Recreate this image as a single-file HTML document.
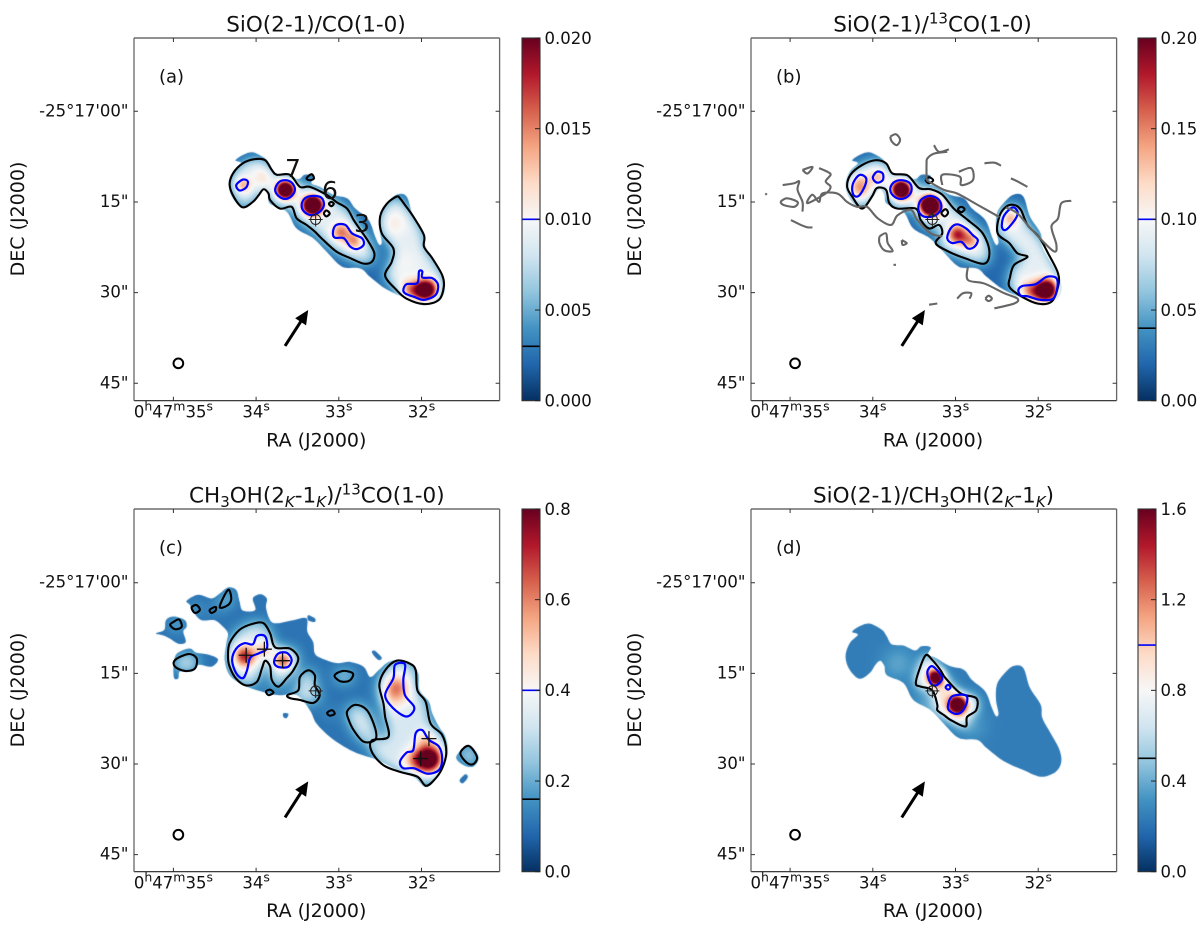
<!DOCTYPE html>
<html lang="en">
<head>
<meta charset="utf-8">
<title>SiO and CH3OH line ratio maps</title>
<style>
html,body{margin:0;padding:0;background:#fff;}
#figure{position:relative;width:1200px;height:932px;overflow:hidden;background:#fff;font-family:"DejaVu Sans","Liberation Sans",sans-serif;}
#figure canvas{position:absolute;}
#overlay{position:absolute;left:0;top:0;}
#overlay text{font-family:"DejaVu Sans","Liberation Sans",sans-serif;fill:#111;}
.ttl{font-size:21.5px;text-anchor:middle;}
.axt{font-size:19px;text-anchor:middle;}
.tag{font-size:18px;}
.src{font-size:25px;text-anchor:middle;}
.tkl{font-size:16.5px;}
</style>
</head>
<body>
<div id="figure">
<canvas id="map-a" width="366" height="363" style="left:134px;top:38px"></canvas>
<canvas id="map-b" width="366" height="363" style="left:751px;top:38px"></canvas>
<canvas id="map-c" width="366" height="363" style="left:134px;top:509px"></canvas>
<canvas id="map-d" width="366" height="363" style="left:751px;top:509px"></canvas>
<svg id="overlay" width="1200" height="932" viewBox="0 0 1200 932" xmlns="http://www.w3.org/2000/svg">
<defs>
<linearGradient id="cbar-gradient" x1="0" y1="1" x2="0" y2="0"></linearGradient>
<clipPath id="clip-b"><rect x="751" y="38" width="366" height="363"></rect></clipPath>
</defs>
<text class="ttl" x="316" y="31.7">SiO(2-1)/CO(1-0)</text>
<text class="ttl" x="932.5" y="31.7">SiO(2-1)/<tspan font-size="15" dy="-8">13</tspan><tspan dy="8">CO(1-0)</tspan></text>
<text class="ttl" x="316.8" y="502.5">CH<tspan font-size="15" dy="4.5">3</tspan><tspan dy="-4.5">OH(2</tspan><tspan font-size="15" font-style="italic" dy="4.5">K</tspan><tspan dy="-4.5">-1</tspan><tspan font-size="15" font-style="italic" dy="4.5">K</tspan><tspan dy="-4.5">)/</tspan><tspan font-size="15" dy="-8">13</tspan><tspan dy="8">CO(1-0)</tspan></text>
<text class="ttl" x="933.5" y="502.5">SiO(2-1)/CH<tspan font-size="15" dy="4.5">3</tspan><tspan dy="-4.5">OH(2</tspan><tspan font-size="15" font-style="italic" dy="4.5">K</tspan><tspan dy="-4.5">-1</tspan><tspan font-size="15" font-style="italic" dy="4.5">K</tspan><tspan dy="-4.5">)</tspan></text>
<text class="axt" x="316.3" y="446.7">RA (J2000)</text>
<text class="axt" x="933" y="446.7">RA (J2000)</text>
<text class="axt" x="316.3" y="917">RA (J2000)</text>
<text class="axt" x="933" y="917">RA (J2000)</text>
<text class="axt" transform="translate(24 219) rotate(-90)">DEC (J2000)</text>
<text class="axt" transform="translate(641 219) rotate(-90)">DEC (J2000)</text>
<text class="axt" transform="translate(24 690) rotate(-90)">DEC (J2000)</text>
<text class="axt" transform="translate(641 690) rotate(-90)">DEC (J2000)</text>
<text class="tag" x="159" y="82.7">(a)</text>
<text class="tag" x="776" y="82.7">(b)</text>
<text class="tag" x="159" y="553.7">(c)</text>
<text class="tag" x="776" y="553.7">(d)</text>
<g id="marks"></g>
<text class="src" x="293" y="177">7</text>
<text class="src" x="330" y="199">6</text>
<text class="src" x="362" y="232">3</text>
</svg>
</div>
<script>
// ---- axis values ----
const raTicks = [35, 34, 33, 32];
const raTickLabels = ["0h47m35s", "34s", "33s", "32s"];
const decTicks = [0, 15, 30, 45];
const decTickLabels = ["-25\u00b017'00\"", "15\"", "30\"", "45\""];

// ---- colour map stops (RdBu reversed) ----
const cmapStops = ["#053061","#2166ac","#4393c3","#92c5de","#d1e5f0","#f7f7f7","#fddbc7","#f4a582","#d6604d","#b2182b","#67001f"];

// ---- colour bar values: [min,max] ; ticks ; printed labels ; contour levels ----
const rangeA = [0, 0.02];
const rangeB = [0, 0.2];
const rangeC = [0, 0.8];
const rangeD = [0, 1.6];
const cbarTicksA = [0, 0.005, 0.01, 0.015, 0.02];
const cbarTicksB = [0, 0.05, 0.1, 0.15, 0.2];
const cbarTicksC = [0, 0.2, 0.4, 0.6, 0.8];
const cbarTicksD = [0, 0.4, 0.8, 1.2, 1.6];
const cbarLabelsA = ["0.000", "0.005", "0.010", "0.015", "0.020"];
const cbarLabelsB = ["0.00", "0.05", "0.10", "0.15", "0.20"];
const cbarLabelsC = ["0.0", "0.2", "0.4", "0.6", "0.8"];
const cbarLabelsD = ["0.0", "0.4", "0.8", "1.2", "1.6"];
const levelsA = [0.003, 0.01];
const levelsB = [0.04, 0.1];
const levelsC = [0.16, 0.4];
const levelsD = [0.5, 1.0];
// ratio values: [outside the black contour, inside the black contour]
const plateauA = [0.0021, 0.0088];
const plateauB = [0.021, 0.09];
const plateauC = [0.105, 0.33];
const plateauD = [0.24, 0.84];

// ---- sky positions are [RA seconds, DEC arcsec below -25d17'00"] ----
const sioFootprint = [[34.25,8.1],[34.14,7.1],[34.03,6.8],[33.89,7.8],[33.83,8.9],[33.77,10.2],[33.63,10.4],[33.49,11.2],[33.41,10.5],[33.3,10.7],[33.33,11.9],[33.23,12.5],[33.07,13.8],[32.9,14.4],[32.8,16.1],[32.64,18.0],[32.56,20.7],[32.51,22.1],[32.48,21.6],[32.51,19.4],[32.5,16.9],[32.42,15.2],[32.3,13.8],[32.18,14.1],[32.1,17.4],[31.97,20.2],[31.95,22.4],[31.85,24.9],[31.75,27.4],[31.72,29.6],[31.79,31.3],[31.97,32.1],[32.18,31.0],[32.42,29.5],[32.62,27.4],[32.74,26.0],[32.96,25.7],[33.15,23.2],[33.31,21.0],[33.51,19.4],[33.63,16.6],[33.83,15.3],[33.86,13.8],[33.91,12.9],[33.97,13.6],[34.04,15.0],[34.16,15.9],[34.28,14.4],[34.33,12.2],[34.28,10.0],[34.18,8.6]];

const blackA = [
 [[34.32,12.2],[34.28,10.3],[34.16,8.6],[34.01,7.9],[33.89,8.1],[33.81,9.7],[33.75,10.5],[33.59,10.5],[33.47,12.5],[33.35,12.5],[33.15,13.8],[33.03,15.0],[32.9,16.1],[32.82,18.0],[32.74,19.6],[32.64,21.6],[32.57,23.5],[32.6,24.9],[32.7,25.2],[32.86,24.3],[33.03,23.2],[33.21,21.0],[33.29,19.9],[33.39,18.8],[33.51,17.7],[33.57,15.8],[33.71,16.1],[33.83,14.7],[33.85,13.6],[33.91,12.9],[33.97,13.9],[34.04,15.0],[34.16,15.9],[34.26,14.4]],
 [[32.3,14.1],[32.42,15.3],[32.5,17.4],[32.48,20.2],[32.34,22.7],[32.36,24.9],[32.44,27.2],[32.3,29.6],[32.18,31.0],[31.97,31.9],[31.79,31.2],[31.73,29.0],[31.75,27.1],[31.87,24.3],[31.97,22.4],[31.97,20.5],[32.1,17.4],[32.2,15.5],[32.26,14.4]],
 [[33.39,11.1],[33.33,10.4],[33.3,11.1],[33.35,11.4]],
 [[33.12,15.3],[33.09,15.0],[33.06,15.3],[33.09,15.7]],
 [[33.18,16.9],[33.15,16.4],[33.11,16.9],[33.15,17.4]]
];
const blueA = [
 [[34.24,12.2],[34.16,11.3],[34.1,11.6],[34.12,12.6],[34.2,13.1]],
 [[33.77,13.0],[33.73,11.8],[33.65,11.4],[33.57,11.8],[33.53,12.9],[33.57,14.0],[33.65,14.5],[33.73,14.0]],
 [[33.45,15.5],[33.41,14.4],[33.32,14.0],[33.21,14.3],[33.18,15.5],[33.23,16.6],[33.33,17.2],[33.42,16.6]],
 [[33.07,19.9],[33.03,18.8],[32.92,18.8],[32.84,20.2],[32.72,21.0],[32.7,22.1],[32.78,22.8],[32.86,22.4],[32.94,21.0],[33.05,20.9]],
 [[32.22,29.6],[32.18,28.6],[32.05,28.4],[32.03,26.5],[31.99,26.5],[31.99,27.5],[31.87,27.6],[31.8,28.7],[31.83,30.4],[31.97,31.2],[32.09,30.7],[32.19,30.2]]
];
// emission peaks: [RA, DEC, amplitude, sigma in arcsec]
const peaksA = [[34.16,12.1,0.0045,0.9],[33.93,10.8,0.0022,1.2],[33.65,12.9,0.019,0.98],[33.32,15.45,0.021,1.08],[32.98,19.9,0.0062,1.1],[32.82,21.3,0.0055,1.05],[32.33,18.5,0.0018,1.5],[32.2,25,0.001,1.8],[31.95,29.5,0.016,1.2],[32.13,29.6,0.0062,1.3]];

const blackB = [
 [[34.31,12.5],[34.27,10.5],[34.13,8.9],[33.97,8.1],[33.84,8.6],[33.76,10.3],[33.58,10.6],[33.44,12.7],[33.3,12.9],[33.16,13.8],[33.02,16.1],[32.85,18.0],[32.67,20.2],[32.59,23.2],[32.65,25.2],[32.89,24.3],[33.1,23.1],[33.24,21.8],[33.16,20.2],[33.2,18.8],[33.32,19.4],[33.42,18.0],[33.48,16.1],[33.7,16.1],[33.8,15.2],[33.84,13.0],[33.95,12.7],[34.01,14.1],[34.13,16.1],[34.25,14.1]],
 [[32.39,15.8],[32.47,17.4],[32.49,20.2],[32.35,21.8],[32.25,23.5],[32.13,24.1],[32.29,25.4],[32.34,27.4],[32.35,29.0],[32.23,30.4],[32.01,31.8],[31.84,31.5],[31.76,29.0],[31.76,26.8],[31.88,23.5],[31.99,20.8],[32.13,18.8],[32.21,16.3],[32.29,15.5]],
 [[33.17,16.8],[33.12,16.2],[33.09,16.8],[33.13,17.4]],
 [[33.36,11.4],[33.32,10.9],[33.27,11.4],[33.32,11.9]],
 [[32.97,16.2],[32.93,15.8],[32.89,16.2],[32.93,16.7]]
];
const blueB = [
 [[34.25,12.7],[34.22,11.4],[34.15,10.5],[34.08,11.1],[34.1,12.5],[34.17,14.0],[34.23,13.9]],
 [[34.0,11.0],[33.95,10.0],[33.88,10.3],[33.88,11.4],[33.95,11.8]],
 [[33.79,12.9],[33.75,11.8],[33.66,11.4],[33.56,11.8],[33.53,12.9],[33.57,14.0],[33.66,14.5],[33.75,14.0]],
 [[33.45,16.1],[33.42,14.7],[33.32,14.0],[33.21,14.5],[33.17,15.8],[33.22,17.0],[33.32,17.5],[33.41,17.2]],
 [[33.1,21.0],[33.06,19.4],[32.98,18.7],[32.87,19.4],[32.79,20.5],[32.73,21.3],[32.77,22.4],[32.85,22.7],[32.93,21.6],[33.04,21.8]],
 [[32.44,18.8],[32.41,17.2],[32.31,15.9],[32.25,16.6],[32.27,17.7],[32.37,19.4],[32.42,19.6]],
 [[32.24,29.6],[32.19,28.9],[32.03,28.6],[31.9,27.4],[31.78,27.6],[31.77,29.3],[31.82,31.0],[31.97,31.2],[32.13,30.6],[32.21,30.5]]
];
const peaksB = [[34.17,12.5,0.055,1.5],[33.94,10.8,0.035,1.0],[33.66,12.9,0.2,1.0],[33.31,15.5,0.21,1.15],[32.98,20.3,0.09,1.1],[32.83,21.3,0.05,1.0],[32.35,17.5,0.045,1.1],[31.9,29.6,0.17,1.3],[32.1,29.8,0.06,1.3]];
// 13CO footprint contour drawn in grey on panel b
const greyB = [
 [[33.79,4.2],[33.72,3.8],[33.67,4.7],[33.71,5.6],[33.77,5.0],[33.79,4.2]],
 [[35.09,12.2],[34.95,11.9],[34.89,11.6],[34.91,13],[34.85,15],[34.85,16.6]],
 [[35.12,15],[35.04,14.4],[34.91,15],[34.95,15.8],[35.08,15.5],[35.12,15]],
 [[34.85,9.7],[34.73,9.2],[34.79,10.3],[34.85,9.7]],
 [[34.65,9.4],[34.55,10],[34.51,10.5],[34.57,11.6],[34.51,12.5],[34.57,13.6],[34.79,15.2],[34.73,13.8],[34.65,15],[34.61,13.6],[34.43,13.6],[34.31,15],[34.19,15.8],[34.07,15.8],[33.94,17.7],[33.78,18.8],[33.7,17.2],[33.54,16.3],[33.46,18],[33.3,20.2],[33.16,20.7]],
 [[32.85,25.7],[32.85,27.9],[32.65,28.5],[32.41,30.1],[32.25,31],[32.29,31.8],[32.53,32.6]],
 [[32.98,31],[32.91,30.1],[32.81,30.1],[32.83,31]],
 [[32.64,31],[32.6,30.5],[32.56,31],[32.6,31.4],[32.64,31]],
 [[33.32,32],[33.22,31.8]],
 [[33.26,5.6],[33.2,6.7],[33.08,6.3]],
 [[33.35,11.4],[33.35,8.6],[33.34,7.8],[33.26,7],[33.1,6.7]],
 [[33.35,11.4],[33.14,13],[32.98,13.6],[32.73,15.5],[32.47,17.5]],
 [[32.39,15.9],[32.25,16.9],[32.09,19.4],[31.82,23.1],[31.78,22.1],[31.84,19.1],[31.76,17.7],[31.72,15.2],[31.6,14.8]],
 [[33.16,12.2],[33.16,10.5],[32.95,10.8],[32.93,12.2],[32.79,11.4],[32.81,9.4],[32.96,10]],
 [[32.65,8.6],[32.53,8.5],[32.45,9]],
 [[32.33,11.1],[32.25,11.6],[32.13,12.5]],
 [[33.92,20.7],[33.84,20.2],[33.82,21.8],[33.76,23.1],[33.86,23],[33.92,21.8],[33.92,20.7]],
 [[33.65,21.3],[33.59,21.8],[33.64,22.1],[33.65,21.3]],
 [[33.75,25.4],[33.72,25.4]],
 [[34.99,18],[34.87,18.8],[34.79,19.2],[34.73,19.2]],
 [[35.3,13.6],[35.28,13.8]]
];

const footprintC = [
 [[34.84,3.0],[34.7,2.0],[34.54,2.6],[34.44,1.8],[34.34,0.8],[34.24,1.2],[34.2,3.1],[34.16,4.6],[34.01,4.5],[34.04,2.6],[33.95,1.9],[33.87,2.6],[33.88,4.1],[33.83,6.2],[33.75,6.7],[33.55,6.2],[33.39,5.9],[33.38,8.1],[33.31,9.8],[33.29,11.7],[33.21,12.5],[33.03,13.3],[32.86,13.1],[32.7,13.9],[32.62,15.6],[32.52,14.5],[32.42,13.3],[32.3,12.8],[32.14,13.2],[32.04,15],[32.02,17.8],[31.91,19.7],[31.87,21.6],[31.79,23.8],[31.71,25.5],[31.68,28.2],[31.75,31],[31.85,32.7],[31.95,33.8],[32.1,32.1],[32.34,30.7],[32.54,29.3],[32.78,28.2],[32.94,27.1],[33.11,25.5],[33.27,23.3],[33.35,21.1],[33.51,18.6],[33.75,18.6],[33.99,17.8],[34.16,16.9],[34.32,15.3],[34.38,12.8],[34.36,10],[34.34,8.4],[34.4,7.3],[34.5,6.2],[34.66,6.2],[34.76,4.8],[34.8,3.7]],
 [[35.21,8.4],[35.11,7.8],[35.09,6.2],[35.0,5.6],[34.86,6.2],[34.84,7.3],[34.88,8.1],[34.85,9.8],[34.94,10.1],[35.05,9.2],[35.13,8.7]],
 [[34.98,12.2],[34.92,11.4],[34.8,10.9],[34.72,11.6],[34.58,11.9],[34.46,12.7],[34.54,13.9],[34.7,13.6],[34.78,14.7],[34.92,14.7],[34.94,15.8],[34.99,15.8],[35.0,13.9]],
 [[33.67,21.6],[33.61,21.7],[33.63,22.4],[33.67,22.2]],
 [[31.58,28.8],[31.43,26.9],[31.31,28.8],[31.37,30.4],[31.49,30.2]],
 [[31.54,32.7],[31.47,31.7],[31.44,32.2],[31.5,33.2]],
 [[32.6,11.4],[32.56,11.3],[32.48,12.4],[32.52,12.8],[32.58,12.0]],
 [[33.37,5.4],[33.29,5.9],[33.29,6.5],[33.37,6.2]]
];
const blackC = [
 [[34.34,12.2],[34.32,10],[34.2,7.8],[34.04,6.8],[33.91,6.7],[33.83,8.4],[33.77,10.7],[33.59,10.9],[33.49,12.5],[33.55,14.5],[33.63,15.8],[33.73,17.2],[33.81,16.1],[33.83,13.9],[33.89,12.9],[33.93,14.2],[33.99,16.4],[34.12,17],[34.24,15.9],[34.32,13.9]],
 [[33.62,18.6],[33.49,17.8],[33.47,15.6],[33.37,14.5],[33.29,15.3],[33.29,17],[33.23,18.6],[33.31,19.9],[33.47,19.4],[33.59,19.1]],
 [[33.05,15.3],[32.95,14.6],[32.83,15],[32.86,16.1],[32.94,16.4],[33.01,16.1]],
 [[32.9,21.3],[32.8,20.2],[32.66,21.1],[32.56,24.1],[32.56,26],[32.7,26.3],[32.82,24.4],[32.88,22.7]],
 [[32.3,12.9],[32.44,14.5],[32.51,16.9],[32.46,20],[32.44,22.2],[32.4,25.5],[32.6,26.1],[32.6,28],[32.46,30.2],[32.26,31.3],[32.05,32.1],[31.95,33.6],[31.85,32.7],[31.75,30.7],[31.7,28],[31.75,25.2],[31.89,23.3],[31.95,19.7],[32.05,17.8],[32.07,14.5],[32.14,13.4]],
 [[35.0,6.5],[34.93,6.1],[34.9,7.3],[34.98,7.7],[35.04,7.0]],
 [[34.98,12.8],[34.82,11.8],[34.72,12.5],[34.74,14.2],[34.86,14.6],[34.98,13.9]],
 [[34.44,4],[34.34,1.2],[34.3,2.6],[34.34,3.7]],
 [[34.78,4.1],[34.72,3.7],[34.68,4.5],[34.74,5]],
 [[34.56,4.5],[34.49,4],[34.49,4.6],[34.54,5]],
 [[33.88,18],[33.83,17.7],[33.79,18.2],[33.85,18.6]],
 [[33.14,21.5],[33.08,21.1],[33.05,21.7],[33.11,22]],
 [[31.53,28.2],[31.43,27],[31.33,28.8],[31.37,30],[31.45,29.8]]
];
const blueC = [
 [[34.29,12.8],[34.24,10.9],[34.14,10],[34.04,10.2],[33.99,8.8],[33.89,8.9],[33.87,10.9],[33.97,11.7],[34.07,12.4],[34.11,14.5],[34.16,15.8],[34.24,15]],
 [[33.78,12.8],[33.73,11.7],[33.63,11.6],[33.57,12.7],[33.61,13.9],[33.71,14],[33.77,13.6]],
 [[32.44,18.6],[32.34,15.8],[32.32,13.6],[32.2,13.5],[32.22,16.1],[32.2,18.6],[32.09,20.5],[32.12,21.7],[32.2,22.1],[32.34,20.8]],
 [[32.26,29.6],[32.18,28.1],[32.1,27.7],[32.07,24.9],[31.99,24.4],[31.91,26],[31.79,27.1],[31.75,29.1],[31.79,31],[31.93,31.6],[32.09,30.7],[32.22,30.7]]
];
const peaksC = [[34.14,12.1,0.38,1.3],[33.91,10.9,0.16,1.0],[33.68,12.8,0.3,1.1],[32.32,18.3,0.2,1.7],[32.3,16.7,0.13,1.3],[31.91,29.1,0.62,1.5],[32.09,29.3,0.2,1.4],[31.97,26,0.12,1.2]];
const crossesC = [[34.12,12],[33.9,11],[33.68,12.9],[31.91,25.8],[32.01,29.1]];

const blackD = [
 [[33.48,16.7],[33.44,14.5],[33.36,12],[33.28,12.8],[33.18,14.5],[33.12,15.8],[32.94,18.3],[32.75,19.1],[32.75,21.1],[32.86,22.2],[32.88,23.8],[33.06,22.7],[33.14,21.9],[33.22,21.1],[33.22,20.2],[33.28,17.8],[33.42,17.2]]
];
const blueD = [
 [[33.34,14.7],[33.29,13.8],[33.22,14.5],[33.16,15.8],[33.22,16.9],[33.28,16.9],[33.32,16.1]],
 [[33.09,20.2],[33.04,18.8],[32.88,18.6],[32.86,19.7],[32.92,21.3],[33.0,21.7],[33.08,21.1]],
 [[33.12,17.3],[33.09,16.9],[33.06,17.3],[33.09,17.7]]
];
const peaksD = [[33.24,15.6,1.1,0.9],[32.98,20.1,1.25,1.0],[33.09,17.3,0.2,0.4],[33.7,13.3,0.13,2.0],[33.3,20,0.15,2.0],[32.8,23.5,0.1,1.8]];

// shared overlay positions [RA, DEC]
const referenceSource = [33.28, 17.9];
const arrowTail = [33.65, 38.83];
const arrowTip = [33.37, 32.88];
const beamCentre = [34.94, 41.7];
const beamRadius = [0.85];

// ---- panel layout (pixels) ----
const panels = [
 {key:'a', ox:173.4, oy:111.3, left:134, top:38, cbarX:522, range:rangeA, plateau:plateauA, foot:[sioFootprint], black:blackA, blue:blueA, peaks:peaksA, ticks:cbarTicksA, labels:cbarLabelsA, levels:levelsA, blur:6},
 {key:'b', ox:790.1, oy:111.3, left:751, top:38, cbarX:1138, range:rangeB, plateau:plateauB, foot:[sioFootprint], black:blackB, blue:blueB, peaks:peaksB, ticks:cbarTicksB, labels:cbarLabelsB, levels:levelsB, blur:6},
 {key:'c', ox:173.4, oy:582.7, left:134, top:509, cbarX:522, range:rangeC, plateau:plateauC, foot:footprintC, black:blackC, blue:blueC, peaks:peaksC, ticks:cbarTicksC, labels:cbarLabelsC, levels:levelsC, blur:6},
 {key:'d', ox:790.1, oy:582.7, left:751, top:509, cbarX:1138, range:rangeD, plateau:plateauD, foot:[sioFootprint], black:blackD, blue:blueD, peaks:peaksD, ticks:cbarTicksD, labels:cbarLabelsD, levels:levelsD, blur:5}
];

const SVG_NS = 'http://www.w3.org/2000/svg';
const PX_PER_SEC = 82.7;
const PX_PER_ARCSEC = 6.044;
const AX_W = 365.6, AX_H = 362.7;
const marksLayer = document.getElementById('marks');

function xScale(p, ra){ return p.ox + (35 - ra) * PX_PER_SEC; }
function yScale(p, dec){ return p.oy + dec * PX_PER_ARCSEC; }
function cbarY(p, v){ return p.top + AX_H - (v - p.range[0]) / (p.range[1] - p.range[0]) * AX_H; }
function svgEl(tag, parent){ const e = document.createElementNS(SVG_NS, tag); (parent || marksLayer).appendChild(e); return e; }

function smoothPath(pts, closed, fx, fy){
  const n = pts.length;
  const P = i => closed ? pts[(i + n) % n] : pts[Math.max(0, Math.min(n - 1, i))];
  let d = 'M' + fx(pts[0][0]).toFixed(2) + ' ' + fy(pts[0][1]).toFixed(2);
  const last = closed ? n : n - 1;
  for (let i = 0; i < last; i++){
    const p0 = P(i - 1), p1 = P(i), p2 = P(i + 1), p3 = P(i + 2);
    const x0 = fx(p0[0]), y0 = fy(p0[1]), x1 = fx(p1[0]), y1 = fy(p1[1]), x2 = fx(p2[0]), y2 = fy(p2[1]), x3 = fx(p3[0]), y3 = fy(p3[1]);
    d += 'C' + (x1 + (x2 - x0) / 6).toFixed(2) + ' ' + (y1 + (y2 - y0) / 6).toFixed(2) + ' ' + (x2 - (x3 - x1) / 6).toFixed(2) + ' ' + (y2 - (y3 - y1) / 6).toFixed(2) + ' ' + x2.toFixed(2) + ' ' + y2.toFixed(2);
  }
  return d + (closed ? 'Z' : '');
}

const cmapRGB = cmapStops.map(h => [parseInt(h.slice(1,3),16), parseInt(h.slice(3,5),16), parseInt(h.slice(5,7),16)]);
function cmap(t){
  t = Math.max(0, Math.min(1, t)) * (cmapRGB.length - 1);
  const i = Math.min(cmapRGB.length - 2, Math.floor(t)), f = t - i, a = cmapRGB[i], b = cmapRGB[i + 1];
  return [a[0] + (b[0] - a[0]) * f, a[1] + (b[1] - a[1]) * f, a[2] + (b[2] - a[2]) * f];
}

function boxBlur(src, w, h, r){
  let a = src, b = new Float32Array(w * h);
  for (let pass = 0; pass < 3; pass++){
    for (let y = 0; y < h; y++){
      let s = 0;
      for (let x = -r; x <= r; x++) s += a[y * w + Math.max(0, Math.min(w - 1, x))];
      for (let x = 0; x < w; x++){
        b[y * w + x] = s / (2 * r + 1);
        s += a[y * w + Math.min(w - 1, x + r + 1)] - a[y * w + Math.max(0, x - r)];
      }
    }
    const c = new Float32Array(w * h);
    for (let x = 0; x < w; x++){
      let s = 0;
      for (let y = -r; y <= r; y++) s += b[Math.max(0, Math.min(h - 1, y)) * w + x];
      for (let y = 0; y < h; y++){
        c[y * w + x] = s / (2 * r + 1);
        s += b[Math.min(h - 1, y + r + 1) * w + x] - b[Math.max(0, y - r) * w + x];
      }
    }
    a = c;
  }
  return a;
}

function rasterise(p, polys, w, h){
  const c = document.createElement('canvas');
  c.width = w; c.height = h;
  const g = c.getContext('2d');
  g.fillStyle = '#000';
  polys.forEach(poly => {
    g.fill(new Path2D(smoothPath(poly, true, ra => xScale(p, ra) - p.left, dec => yScale(p, dec) - p.top)));
  });
  const data = g.getImageData(0, 0, w, h).data, out = new Float32Array(w * h);
  for (let i = 0; i < w * h; i++) out[i] = data[i * 4 + 3] / 255;
  return out;
}

function paintMap(p){
  const cv = document.getElementById('map-' + p.key), w = cv.width, h = cv.height, g = cv.getContext('2d');
  const foot = rasterise(p, p.foot, w, h);
  const inner = boxBlur(rasterise(p, p.black, w, h), w, h, p.blur);
  const img = g.createImageData(w, h), span = p.range[1] - p.range[0];
  const pk = p.peaks.map(q => [xScale(p, q[0]) - p.left, yScale(p, q[1]) - p.top, q[2], 2 * Math.pow(q[3] * PX_PER_ARCSEC, 2)]);
  for (let y = 0; y < h; y++) for (let x = 0; x < w; x++){
    const i = y * w + x;
    if (foot[i] <= 0) continue;
    let v = p.plateau[0] + (p.plateau[1] - p.plateau[0]) * Math.min(1, inner[i] * 1.05);
    for (const q of pk){
      const dx = x - q[0], dy = y - q[1], d2 = dx * dx + dy * dy;
      if (d2 < q[3] * 9) v += q[2] * Math.exp(-d2 / q[3]);
    }
    const c = cmap((v - p.range[0]) / span), o = i * 4;
    img.data[o] = c[0]; img.data[o + 1] = c[1]; img.data[o + 2] = c[2]; img.data[o + 3] = foot[i] * 255;
  }
  g.putImageData(img, 0, 0);
}

function drawAxes(p){
  const L = p.left, T = p.top, R = L + AX_W, B = T + AX_H;
  const fx = ra => xScale(p, ra), fy = dec => yScale(p, dec);

  p.black.forEach(poly => {
    const e = svgEl('path');
    
    
    e.setAttribute('d', smoothPath(poly, true, fx, fy));
    e.setAttribute('fill', 'none');
    e.setAttribute('stroke', '#000');
    e.setAttribute('stroke-width', '2.1');
  });
  p.blue.forEach(poly => {
    const e = svgEl('path');
    
    
    e.setAttribute('d', smoothPath(poly, true, fx, fy));
    e.setAttribute('fill', 'none');
    e.setAttribute('stroke', '#0000ff');
    e.setAttribute('stroke-width', '2.2');
  });
  if (p.key === 'b'){
    greyB.forEach(line => {
      const e = svgEl('path');
      
      
      e.setAttribute('d', smoothPath(line, false, fx, fy));
      e.setAttribute('fill', 'none');
      e.setAttribute('stroke', '#666');
      e.setAttribute('stroke-width', '2.1');
      e.setAttribute('clip-path', 'url(#clip-b)');
    });
  }
  if (p.key === 'c'){
    crossesC.forEach(pt => {
      const e = svgEl('path');
      
      
      const x = fx(pt[0]), y = fy(pt[1]);
      e.setAttribute('d', 'M' + (x - 7.5) + ' ' + y + 'H' + (x + 7.5) + 'M' + x + ' ' + (y - 7.5) + 'V' + (y + 7.5));
      e.setAttribute('stroke', '#111');
      e.setAttribute('stroke-width', '1.3');
      e.setAttribute('fill', 'none');
    });
  }
  // reference source marker
  const sx = fx(referenceSource[0]), sy = fy(referenceSource[1]);
  const ring = svgEl('circle');
  
  
  ring.setAttribute('cx', sx);
  ring.setAttribute('cy', sy);
  ring.setAttribute('r', 5);
  ring.setAttribute('fill', 'none');
  ring.setAttribute('stroke', '#222');
  ring.setAttribute('stroke-width', '1');
  const plus = svgEl('path');
  
  
  plus.setAttribute('d', 'M' + (sx - 7) + ' ' + sy + 'H' + (sx + 7) + 'M' + sx + ' ' + (sy - 7) + 'V' + (sy + 7));
  plus.setAttribute('stroke', '#222');
  plus.setAttribute('stroke-width', '1');
  // outflow arrow
  const ax = fx(arrowTail[0]), ay = fy(arrowTail[1]), bx = fx(arrowTip[0]), by = fy(arrowTip[1]);
  const len = Math.hypot(bx - ax, by - ay), ux = (bx - ax) / len, uy = (by - ay) / len;
  const shaft = svgEl('line');
  
  
  shaft.setAttribute('x1', ax);
  shaft.setAttribute('y1', ay);
  shaft.setAttribute('x2', bx - ux * 10);
  shaft.setAttribute('y2', by - uy * 10);
  shaft.setAttribute('stroke', '#000');
  shaft.setAttribute('stroke-width', '3');
  const head = svgEl('path');
  
  
  const hx = bx - ux * 14, hy = by - uy * 14;
  head.setAttribute('d', 'M' + bx + ' ' + by + 'L' + (hx - uy * 6.5) + ' ' + (hy + ux * 6.5) + 'L' + (hx + uy * 6.5) + ' ' + (hy - ux * 6.5) + 'Z');
  head.setAttribute('fill', '#000');
  // beam
  const beam = svgEl('circle');
  
  
  beam.setAttribute('cx', fx(beamCentre[0]));
  beam.setAttribute('cy', fy(beamCentre[1]));
  beam.setAttribute('r', beamRadius[0] * PX_PER_ARCSEC - 0.3);
  beam.setAttribute('fill', '#fff');
  beam.setAttribute('stroke', '#000');
  beam.setAttribute('stroke-width', '2');

  // frame
  const fH = svgEl('path');
  
  
  fH.setAttribute('d', 'M' + L + ' ' + T + 'H' + R + 'M' + L + ' ' + B + 'H' + R);
  fH.setAttribute('stroke', '#222');
  fH.setAttribute('stroke-width', '1.1');
  const fV = svgEl('path');
  
  
  fV.setAttribute('d', 'M' + L + ' ' + T + 'V' + B + 'M' + R + ' ' + T + 'V' + B);
  fV.setAttribute('stroke', '#666');
  fV.setAttribute('stroke-width', '1.3');

  // ra ticks
  raTicks.forEach((ra, i) => {
    const x = fx(ra);
    const t = svgEl('path');
    
    
    t.setAttribute('d', 'M' + x + ' ' + T + 'v4M' + x + ' ' + B + 'v-4');
    t.setAttribute('stroke', '#333');
    t.setAttribute('stroke-width', '1');
    const lab = svgEl('text');
    
    
    lab.setAttribute('class', 'tkl');
    lab.setAttribute('x', x);
    lab.setAttribute('y', B + 17);
    lab.setAttribute('text-anchor', 'middle');
    raTickLabels[i].split(/([hms])/).filter(Boolean).forEach(part => {
      const isUnit = /^[hms]$/.test(part);
      const ts = svgEl('tspan', lab);
      ts.textContent = part;
      ts.setAttribute('baseline-shift', isUnit ? '7' : '0');
      if (isUnit) ts.setAttribute('font-size', '12.5');
    });
  });
  // dec ticks
  decTicks.forEach((dec, i) => {
    const y = fy(dec);
    const t = svgEl('path');
    
    
    t.setAttribute('d', 'M' + L + ' ' + y + 'h4M' + R + ' ' + y + 'h-4');
    t.setAttribute('stroke', '#333');
    t.setAttribute('stroke-width', '1');
    const lab = svgEl('text');
    
    
    lab.setAttribute('class', 'tkl');
    lab.setAttribute('x', L - 5.5);
    lab.setAttribute('y', y + 5);
    lab.setAttribute('text-anchor', 'end');
    lab.textContent = decTickLabels[i];
  });

  // colour bar
  const cbw = 18, cx = p.cbarX;
  const bar = svgEl('rect');
  
  
  bar.setAttribute('x', cx);
  bar.setAttribute('y', T);
  bar.setAttribute('width', cbw);
  bar.setAttribute('height', AX_H);
  bar.setAttribute('fill', 'url(#cbar-gradient)');
  p.levels.forEach((lev, i) => {
    const y = cbarY(p, lev);
    const ln = svgEl('line');
    
    
    ln.setAttribute('x1', cx);
    ln.setAttribute('x2', cx + cbw);
    ln.setAttribute('y1', y);
    ln.setAttribute('y2', y);
    ln.setAttribute('stroke', i === 0 ? '#000' : '#0000ff');
    ln.setAttribute('stroke-width', '1.6');
  });
  const barFrame = svgEl('rect');
  
  
  barFrame.setAttribute('x', cx);
  barFrame.setAttribute('y', T);
  barFrame.setAttribute('width', cbw);
  barFrame.setAttribute('height', AX_H);
  barFrame.setAttribute('fill', 'none');
  barFrame.setAttribute('stroke', '#333');
  barFrame.setAttribute('stroke-width', '1.1');
  p.ticks.forEach((v, i) => {
    const y = cbarY(p, v);
    const t = svgEl('line');
    
    
    t.setAttribute('x1', cx + cbw - 5);
    t.setAttribute('x2', cx + cbw);
    t.setAttribute('y1', y);
    t.setAttribute('y2', y);
    t.setAttribute('stroke', '#222');
    t.setAttribute('stroke-width', '1');
    const lab = svgEl('text');
    
    
    lab.setAttribute('class', 'tkl');
    lab.setAttribute('x', cx + cbw + 4.5);
    lab.setAttribute('y', y + 5.8);
    lab.textContent = p.labels[i];
  });
}

const grad = document.getElementById('cbar-gradient');
cmapStops.forEach((col, i) => {
  const s = document.createElementNS(SVG_NS, 'stop');
  s.setAttribute('offset', i / (cmapStops.length - 1));
  s.setAttribute('stop-color', col);
  grad.appendChild(s);
});
panels.forEach(p => { paintMap(p); drawAxes(p); });
</script>
</body>
</html>
